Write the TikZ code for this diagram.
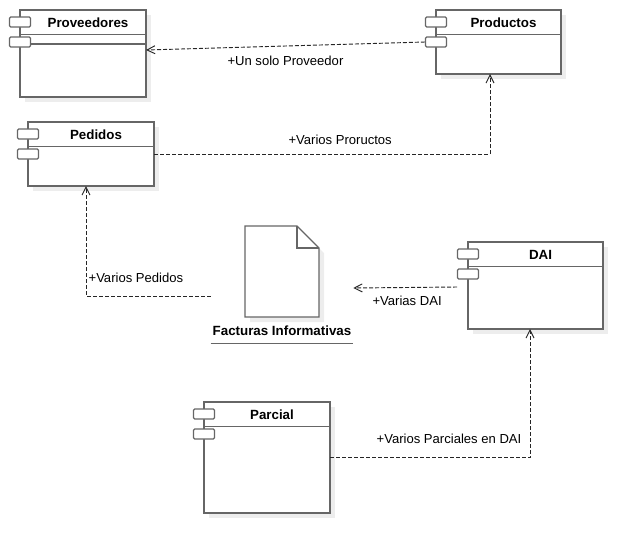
\documentclass[tikz,border=0pt]{standalone}
\usepackage{fontspec}
\setmainfont{Liberation Sans}
\usetikzlibrary{positioning,calc,shadows,arrows.meta}

\begin{document}
\begin{tikzpicture}
[x=0.75pt,y=-0.75pt,
 every node/.style={font=\fontsize{9.8pt}{11pt}\selectfont},
 outline/.style={draw=black!60,line width=0.9pt},
 comp/.style={outline,fill=white,inner sep=0pt,outer sep=0pt,
   drop shadow={shadow xshift=3.75pt,shadow yshift=-3.75pt,fill=black!7,opacity=1},
   path picture={\draw[outline] ([yshift=-18.4pt]path picture bounding box.north west)
     -- ([yshift=-18.4pt]path picture bounding box.north east);}},
 box size/.style 2 args={minimum width=#1*0.75pt,minimum height=#2*0.75pt},
 title/.style={anchor=north,xshift=3.75pt,yshift=-5.4pt,inner sep=0pt,
   text height=7.2pt,text depth=0pt,font=\fontsize{10pt}{12pt}\selectfont\bfseries},
 tabbox/.style={outline,fill=white,rounded corners=1pt,inner sep=0pt,
   minimum width=15.75pt,minimum height=7.5pt},
 dep/.style={draw=black!85,line width=0.7pt,dash pattern=on 3pt off 1.5pt,
   -{Straight Barb[length=6pt,width=6pt]}},
 lbl/.style={inner sep=0pt}]
\useasboundingbox (0,0) rectangle (642,554);
% components
\node[comp,box size={126}{87},label={[title]north:Proveedores}] (pv) at (83,53.5) {};
\node[comp,box size={125}{64},label={[title]north:Productos}] (pr) at (498.5,42) {};
\node[comp,box size={126}{64},label={[title]north:Pedidos}] (pd) at (91,154) {};
\node[comp,box size={135}{87},label={[title]north:DAI}] (dai) at (535.5,285.5) {};
\node[comp,box size={126}{111},label={[title]north:Parcial}] (pc) at (267,457.5) {};
\draw[outline] ($(pv.north west)+(0,34)$) -- ($(pv.north east)+(0,34)$);
\foreach \c in {pv,pr,pd,dai,pc}{
  \node[tabbox] (\c-t1) at ($(\c.north west)+(0,12)$) {};
  \node[tabbox] (\c-t2) at ($(\c.north west)+(0,32)$) {};
}
% document
\path (282,330.7) coordinate (fc);
\fill[black!7] ($(fc)+(-32,-99.7)$) -- ++(52,0) -- ++(22,22) -- ++(0,69) -- ++(-74,0) -- cycle;
\draw[outline,fill=white] ($(fc)+(-37,-104.7)$) -- ++(52,0) coordinate (fk)
  -- ++(22,22) -- ++(0,69) -- ++(-74,0) -- cycle;
\draw[outline] (fk) -- ++(0,22) -- ++(22,0);
\node[inner xsep=0pt,inner ysep=5.5pt,text height=7.2pt,text depth=0pt,
  minimum width=106.5pt,font=\fontsize{10pt}{12pt}\selectfont\bfseries] (fa) at (fc)
  {Facturas Informativas};
\draw[outline] (fa.south west) -- (fa.south east);
% dependencies
\draw[dep] (pr-t2.west) -- node[lbl,yshift=-11.25pt] (lpv) {+Un solo Proveedor}
  ($(pv.east)+(0,-3.5)$);
\draw[dep] (pd.east) -| node[lbl,pos=0.277,yshift=10.5pt] (lpr) {+Varios Proructos}
  ($(pr.south)+(-8.5,0)$);
\draw[dep] ($(fa.west)+(0,-34.7)$) -| node[lbl,pos=0.3,yshift=13.5pt] (lpd) {+Varios Pedidos}
  ($(pd.south)+(-5,0)$);
\draw[dep] ($(dai.west)+(-11,1.5)$) -- node[lbl,xshift=1.5pt,yshift=-10pt] (lda) {+Varias DAI}
  ($(fa.east)+(0,-42.7)$);
\draw[dep] (pc.east) -| node[lbl,pos=0.2975,yshift=14.25pt] (lpc) {+Varios Parciales en DAI}
  ($(dai.south)+(-5.5,0)$);
\end{tikzpicture}
\end{document}
